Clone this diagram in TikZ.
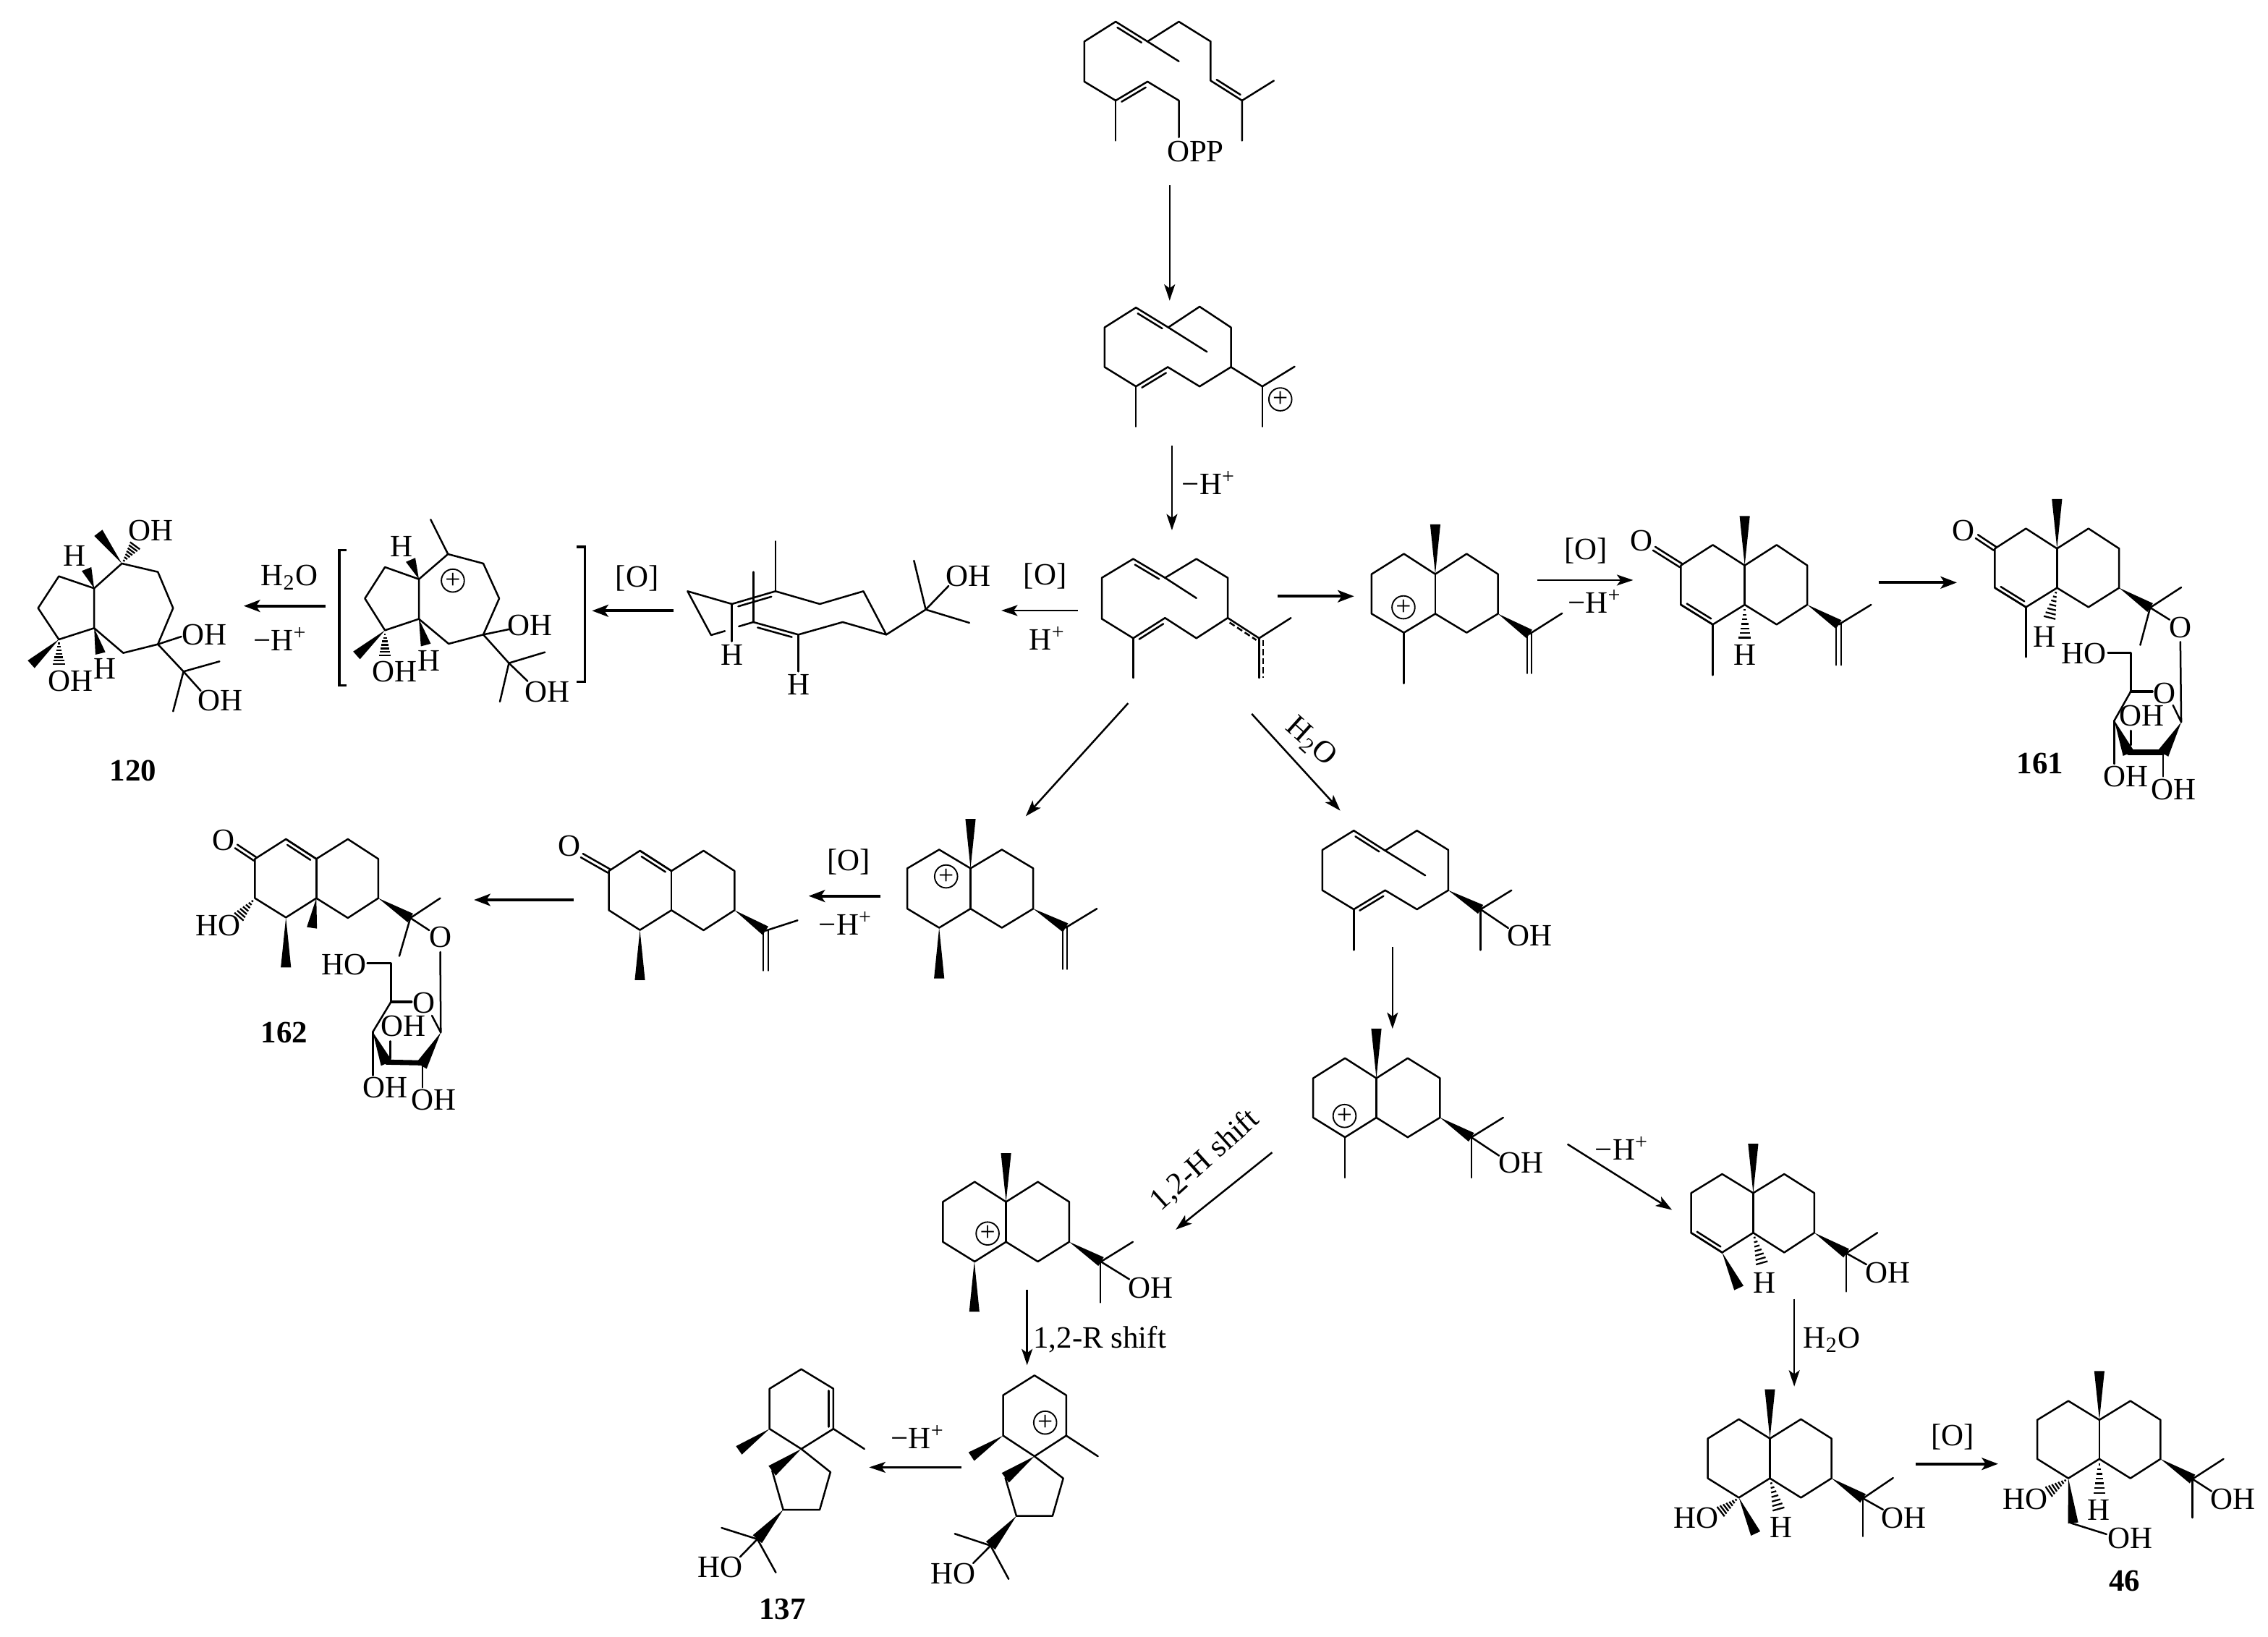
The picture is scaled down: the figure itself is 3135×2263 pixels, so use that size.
\documentclass[tikz,border=0pt]{standalone}
\usepackage{fontspec}
\setmainfont{Liberation Serif}
\usetikzlibrary{calc,arrows.meta}
\newcounter{lbl}\newcounter{rxn}
\tikzset{
 zf/.style n args={4}{shift={(#1*0.24pt,-#2*0.24pt)},x=0.24pt/#3,y=-0.24pt/#4},
 bond/.style={line width=.6pt,line cap=round,line join=round},
 heavy/.style={line width=1.7pt,line cap=round},
 dash2/.style={line width=.6pt,dash pattern=on 2pt off 1pt},
 rxnarrow/.style={line width=.6pt,-{Stealth[length=5.4pt,width=3.6pt,inset=1.3pt]}},
 rxnbold/.style={line width=1pt,-{Stealth[length=5.4pt,width=4pt,inset=1.3pt]}},
 txt/.style={inner sep=0pt,font=\fontsize{10.3}{12}\selectfont},
 btxt/.style={inner sep=0pt,font=\fontsize{10.3}{12}\selectfont\bfseries},
 cplus/.style={circle,draw,line width=.45pt,inner sep=0pt,minimum size=7.6pt,font=\fontsize{9}{9}\selectfont}
}
\newcommand\lb[3][]{\stepcounter{lbl}\node[txt,#1] (t\thelbl) at (#2) {#3};}
\newcommand\blb[2]{\stepcounter{lbl}\node[btxt] (t\thelbl) at (#1) {#2};}
\newcommand\cp[1]{\stepcounter{lbl}\node[cplus] (t\thelbl) at (#1) {+};}
\newcommand\bd[1]{\draw[bond] #1;}
\newcommand\rx[3][rxnarrow]{\stepcounter{rxn}\coordinate (r\therxn s) at (#2);\coordinate (r\therxn e) at (#3);\draw[#1] (r\therxn s) -- (r\therxn e);}
\newcommand\wdg[3][1.7pt]{\fill[black] (#2) -- ($(#3)!#1!90:(#2)$) -- ($(#3)!#1!-90:(#2)$) -- cycle;}
\newcommand\hsh[2]{\foreach \t in {.16,.3,.44,.58,.72,.86,1}{%
  \pgfmathsetlengthmacro\hw{\t*2pt}%
  \coordinate (hp) at ($(#1)!\t!(#2)$);%
  \coordinate (hq) at ($(#1)!\t*.9!(#2)$);%
  \draw[line width=.55pt] ($(hq)!\hw!90:(#2)$) -- ($(hq)!\hw!-90:(#2)$);}}
\newcommand\dbo[2]{\draw[bond] (#1) -- (#2);\draw[bond] ($($(#1)!.12!(#2)$)!1.35pt!90:(#2)$) -- ($($(#2)!.12!(#1)$)!1.35pt!-90:(#1)$);}
\newcommand\dbs[2]{\draw[bond] ($(#1)!.7pt!90:(#2)$) -- ($(#2)!.7pt!-90:(#1)$);\draw[bond] ($(#1)!.7pt!-90:(#2)$) -- ($(#2)!.7pt!90:(#1)$);}
\newcommand\mH{−H\textsuperscript{+}}
\newcommand\wat{H\textsubscript{2}O}
\begin{document}
\begin{tikzpicture}[x=0.24pt,y=-0.24pt]
\useasboundingbox (0,0) rectangle (3135,2263);
\fill[white] (0,0) rectangle (3135,2263);
% ---------- Top column
\begin{scope}[zf={1400}{0}{1.568}{1.568}]
\bd{(292,90)--(360,47)--(429,90)--(429,175)}
\bd{(292,90)--(360,133)}
\dbo{292,90}{223,47}
\bd{(223,47)--(155,90)--(155,177)--(223,218)}
\dbo{292,177}{223,218}
\bd{(292,177)--(360,218)--(360,298)}
\bd{(223,218)--(223,305)}
\dbo{429,175}{497,218}
\bd{(566,175)--(497,218)--(497,305)}
\lb{396,328}{OPP}
\rx{340,402}{340,652}
\dbo{337,710}{267,667}
\bd{(337,710)--(405,665)--(473,710)--(473,796)}
\bd{(337,710)--(421,763)}
\bd{(267,667)--(199,710)--(199,796)--(267,838)}
\dbo{336,796}{267,838}
\bd{(336,796)--(405,838)--(473,796)--(541,838)--(611,795)}
\bd{(541,838)--(541,925)}
\bd{(267,838)--(267,925)}
\cp{580,866}
\rx{345,967}{345,1150}
\lb{425,1047}{\mH}
\dbo{330,1253}{261,1212}
\bd{(330,1253)--(398,1212)--(466,1253)--(466,1340)}
\bd{(330,1253)--(398,1297)}
\bd{(261,1212)--(193,1253)--(193,1342)--(261,1384)}
\dbo{330,1340}{261,1384}
\bd{(330,1340)--(398,1384)--(466,1340)--(534,1384)--(603,1340)}
\bd{(261,1384)--(261,1470)}
\bd{(534,1384)--(534,1470)}
\draw[dash2] (470,1350)--(528,1388);
\draw[dash2] (543,1388)--(543,1470);
\rx[rxnbold]{574,1293}{740,1293}
\bd{(778,1245)--(848,1201)--(916,1245)--(984,1201)--(1052,1245)--(1052,1331)--(984,1372)--(916,1331)--(848,1372)--(778,1331)--cycle}
\bd{(916,1245)--(916,1331)}
\wdg{916,1245}{916,1137}
\bd{(848,1372)--(848,1482)}
\wdg{1052,1331}{1120,1375}
\bd{(1120,1375)--(1191,1330)}
\bd{(1115,1375)--(1115,1460)}
\bd{(1125,1375)--(1125,1460)}
\cp{847,1317}
\rx{1137,1258}{1345,1258}
\lb{1243,1195}{[O]}
\lb{1262,1305}{\mH}
\rx{141,1324}{-25,1324}
\lb{70,1250}{[O]}
\lb{75,1385}{H\textsuperscript{+}}
\rx{250,1525}{28,1770}
\rx{518,1548}{710,1758}
\end{scope}
\lb[rotate=-42]{1812,1026}{\wat}
% ---------- Left row
\begin{scope}[zf={0}{680}{1.045}{3}]
\bd{(136,400)--(85,350)--(55,482)--(85,612)--(136,565)--cycle}
\bd{(136,400)--(176,297)--(228,332)--(250,482)--(228,632)--(178,668)--(136,565)}
\hsh{176,297}{197,215}
\wdg{176,297}{142,170}
\wdg{136,400}{125,320}
\wdg{136,565}{145,670}
\wdg{85,612}{45,715}
\hsh{85,612}{85,725}
\lb{218,160}{OH}\lb{108,265}{H}\lb{152,733}{H}\lb{102,785}{OH}
\bd{(228,632)--(262,600)}\lb{295,592}{OH}
\bd{(228,632)--(265,745)--(317,703)}
\bd{(265,745)--(250,910)}
\bd{(265,745)--(290,825)}\lb{318,867}{OH}
\blb{192,1155}{120}
\rx[rxnbold]{470,473}{352,473}
\lb{418,355}{\wat}\lb{405,610}{\mH}
\draw[line width=.8pt] (500,242)--(490,242)--(490,803)--(500,803);
\draw[line width=.8pt] (833,228)--(845,228)--(845,788)--(833,788);
\bd{(605,362)--(556,312)--(527,442)--(556,574)--(605,527)--cycle}
\bd{(605,362)--(647,258)--(698,297)--(721,442)--(698,592)--(648,630)--(605,527)}
\bd{(647,258)--(622,115)}
\wdg{605,362}{593,282}\lb{580,225}{H}
\cp{654,368}
\bd{(698,592)--(735,570)}\lb{765,555}{OH}
\wdg{556,574}{515,678}
\hsh{556,574}{556,690}\lb{570,745}{OH}
\wdg{605,527}{615,635}\lb{620,700}{H}
\bd{(698,592)--(735,710)--(787,665)}
\bd{(735,710)--(722,870)}
\bd{(735,710)--(762,785)}\lb{790,830}{OH}
\rx[rxnbold]{973,493}{855,493}
\lb{920,358}{[O]}
\bd{(1057,465)--(993,412)--(1027,594)--(1047,577)}
\bd{(1067,558)--(1088,540)}
\dbo{1120,412}{1057,465}
\dbo{1153,592}{1088,540}
\bd{(1153,592)--(1217,540)--(1280,592)--(1247,412)--(1184,465)--(1120,412)}
\bd{(1120,412)--(1120,205)}
\bd{(1088,540)--(1088,332)}
\bd{(1057,465)--(1057,620)}\lb{1057,675}{H}
\bd{(1153,592)--(1153,745)}\lb{1153,800}{H}
\bd{(1280,592)--(1337,488)--(1320,285)}
\bd{(1337,488)--(1400,543)}
\bd{(1337,488)--(1370,390)}\lb{1398,350}{OH}
\end{scope}
% ---------- Right top
\begin{scope}[zf={2200}{640}{1.677}{3}]
\bd{(207,425)--(281,340)--(355,425)--(429,340)--(500,425)--(500,588)--(429,670)--(355,588)--(281,670)--(207,588)--cycle}
\bd{(355,425)--(355,588)}
\dbs{207,425}{145,355}\lb{115,323}{O}
\dbo{207,588}{281,670}
\wdg{355,425}{355,220}
\hsh{355,588}{355,740}\lb{355,795}{H}
\bd{(281,670)--(281,880)}
\wdg{500,588}{573,670}
\bd{(573,670)--(648,588)}
\bd{(567,665)--(567,838)}\bd{(579,665)--(579,838)}
\rx[rxnbold]{665,496}{847,496}
\bd{(935,355)--(1007,272)--(1079,355)--(1152,272)--(1223,355)--(1223,518)--(1152,598)--(1079,518)--(1007,598)--(935,518)--cycle}
\bd{(1079,355)--(1079,518)}
\dbs{935,355}{893,305}\lb{862,280}{O}
\dbo{935,518}{1007,598}
\wdg{1079,355}{1079,150}
\hsh{1079,518}{1060,655}\lb{1050,720}{H}
\bd{(1007,598)--(1007,805)}
\wdg{1223,518}{1295,600}
\bd{(1295,600)--(1367,516)}
\bd{(1295,600)--(1272,755)}
\bd{(1295,600)--(1340,650)}\lb{1365,682}{O}
\bd{(1365,742)--(1367,1075)--(1348,1005)}
\lb{1328,955}{O}
\draw[bond,line width=.8pt] (1300,948)--(1250,948);
\bd{(1250,948)--(1212,1068)}
\wdg[2pt]{1212,1068}{1245,1205}
\draw[heavy] (1245,1200)--(1325,1200);
\wdg[2pt]{1367,1075}{1325,1205}
\bd{(1250,948)--(1250,788)--(1197,788)}\lb{1142,792}{HO}
\lb{1275,1048}{OH}
\bd{(1250,1110)--(1250,1170)}
\bd{(1212,1068)--(1212,1248)}\lb{1238,1300}{OH}
\bd{(1325,1205)--(1325,1300)}\lb{1350,1355}{OH}
\blb{1040,1248}{161}
\end{scope}
% ---------- 162 row
\begin{scope}[zf={240}{1080}{1.307}{3}]
\bd{(147,322)--(203,240)--(258,322)--(315,240)--(370,322)--(370,485)--(315,567)--(258,485)--(203,565)--(147,485)--cycle}
\bd{(258,322)--(258,485)}
\dbo{258,322}{203,240}
\dbs{147,322}{113,270}\lb{90,245}{O}
\hsh{147,485}{115,570}\lb{80,600}{HO}
\wdg{203,565}{203,772}
\wdg{258,485}{250,608}
\wdg{370,485}{428,567}
\bd{(428,567)--(482,485)}
\bd{(428,567)--(408,725)}
\bd{(428,567)--(462,618)}\lb{482,648}{O}
\bd{(482,708)--(483,1042)--(467,972)}
\lb{453,920}{O}
\draw[bond,line width=.8pt] (430,915)--(393,915);
\bd{(393,915)--(360,1040)}
\wdg[2pt]{360,1040}{385,1170}
\draw[heavy] (385,1165)--(450,1168);
\wdg[2pt]{483,1042}{448,1180}
\bd{(393,915)--(393,755)--(350,755)}\lb{308,760}{HO}
\lb{415,1015}{OH}
\bd{(392,1078)--(392,1150)}
\bd{(360,1040)--(360,1220)}\lb{383,1270}{OH}
\bd{(450,1180)--(450,1270)}\lb{470,1322}{OH}
\blb{200,1042}{162}
\rx[rxnbold]{723,492}{543,492}
\bd{(787,372)--(843,288)--(900,372)--(958,288)--(1014,372)--(1014,535)--(958,618)--(900,535)--(843,617)--(787,535)--cycle}
\bd{(900,372)--(900,535)}
\dbo{900,372}{843,288}
\dbs{787,372}{738,308}\lb{715,270}{O}
\wdg{843,617}{843,825}
\wdg{1014,535}{1070,620}
\bd{(1070,620)--(1128,577)}
\bd{(1066,620)--(1066,785)}\bd{(1075,620)--(1075,785)}
\rx[rxnbold]{1278,476}{1148,476}
\lb{1220,333}{[O]}\lb{1215,590}{\mH}
\end{scope}
% ---------- centre
\begin{scope}[zf={1200}{1100}{1.568}{2.24}]
\bd{(85,225)--(154,167)--(222,225)--(290,167)--(358,225)--(358,350)--(290,409)--(222,350)--(154,409)--(85,350)--cycle}
\bd{(222,225)--(222,350)}
\wdg{222,225}{222,72}
\wdg{154,409}{154,566}
\cp{169,250}
\wdg{358,350}{428,409}
\bd{(428,409)--(496,350)}
\bd{(422,409)--(422,537)}\bd{(431,409)--(431,537)}
\dbo{1121,170}{1053,108}
\dbo{1121,293}{1053,352}
\bd{(1053,108)--(985,168)--(985,293)--(1053,352)}
\bd{(1121,170)--(1190,108)--(1258,168)--(1258,293)--(1190,352)--(1121,293)}
\bd{(1121,170)--(1208,247)}
\bd{(1053,352)--(1053,478)}
\wdg{1258,293}{1328,352}
\bd{(1328,352)--(1395,293)}
\bd{(1328,352)--(1328,478)}
\bd{(1328,352)--(1388,410)}\lb{1435,433}{OH}
\rx{1137,468}{1137,722}
\bd{(965,875)--(1034,813)--(1102,875)--(1170,813)--(1240,875)--(1240,997)--(1170,1058)--(1102,997)--(1034,1058)--(965,997)--cycle}
\bd{(1102,875)--(1102,997)}
\wdg{1102,875}{1102,722}
\bd{(1034,1058)--(1034,1183)}
\cp{1033,992}
\wdg{1240,997}{1308,1058}
\bd{(1308,1058)--(1377,997)}
\bd{(1308,1058)--(1308,1183)}
\bd{(1308,1058)--(1368,1115)}\lb{1416,1138}{OH}
\rx{876,1105}{667,1344}
\lb[rotate=42]{730,1130}{1,2-H shift}
\bd{(162,1258)--(231,1196)--(299,1258)--(368,1196)--(436,1258)--(436,1382)--(368,1443)--(299,1382)--(231,1443)--(162,1382)--cycle}
\bd{(299,1258)--(299,1382)}
\wdg{299,1258}{299,1107}
\cp{259,1356}
\wdg{436,1382}{505,1443}
\bd{(505,1443)--(574,1382)}
\end{scope}
% ---------- bottom left
\begin{scope}[zf={950}{1650}{1.96}{2.558}]
\wdg{778,240}{778,418}
\bd{(1120,240)--(1120,385)}
\bd{(1120,240)--(1198,303)}\lb{1256,335}{OH}
\rx{921,340}{921,607}
\lb{1118,515}{1,2-R shift}
\bd{(856,713)--(941,643)--(1027,713)--(1027,856)--(941,929)--(856,856)--cycle}
\cp{970,810}
\wdg{856,856}{770,930}
\bd{(1027,856)--(1113,929)}
\wdg[2pt]{941,929}{862,1005}
\bd{(862,1005)--(892,1140)--(990,1140)--(1019,1007)--(941,929)}
\wdg[2pt]{892,1140}{822,1245}
\bd{(822,1245)--(725,1203)}
\bd{(822,1245)--(871,1363)}
\bd{(822,1245)--(775,1307)}\lb{720,1345}{HO}
\rx{743,968}{493,968}
\lb{625,860}{\mH}
\bd{(223,690)--(309,621)--(396,690)--(396,832)--(309,903)--(223,832)--cycle}
\bd{(383,697)--(383,825)}
\wdg{223,832}{140,908}
\bd{(396,832)--(480,903)}
\wdg[2pt]{309,903}{230,980}
\bd{(230,980)--(260,1118)--(359,1118)--(388,985)--(309,903)}
\wdg[2pt]{260,1118}{190,1222}
\bd{(190,1222)--(93,1182)}
\bd{(190,1222)--(240,1340)}
\bd{(190,1222)--(143,1285)}\lb{90,1320}{HO}
\blb{258,1470}{137}
\end{scope}
% ---------- bottom right
\begin{scope}[zf={2100}{1500}{1.515}{2.055}]
\rx{101,168}{320,355}
\lb{215,180}{\mH}
\bd{(360,307)--(425,253)--(490,307)--(555,253)--(618,307)--(618,420)--(555,476)--(490,420)--(425,476)--(360,420)--cycle}
\bd{(490,307)--(490,420)}
\dbo{360,420}{425,476}
\wdg{490,307}{490,167}
\wdg{425,476}{460,577}
\hsh{490,420}{510,515}\lb{513,562}{H}
\wdg{618,420}{685,478}
\bd{(685,478)--(750,420)}
\bd{(685,478)--(685,587)}
\bd{(685,478)--(727,510)}\lb{772,533}{OH}
\rx{576,608}{576,857}
\lb{655,725}{\wat}
\bd{(395,1005)--(460,950)--(525,1005)--(590,950)--(654,1005)--(654,1118)--(590,1173)--(525,1118)--(460,1173)--(395,1118)--cycle}
\bd{(525,1005)--(525,1118)}
\wdg{525,1005}{525,865}
\wdg{460,1173}{495,1275}
\hsh{460,1173}{418,1217}\lb{370,1230}{HO}
\hsh{525,1118}{545,1215}\lb{548,1258}{H}
\wdg{654,1118}{720,1175}
\bd{(720,1175)--(783,1117)}
\bd{(720,1175)--(720,1283)}
\bd{(720,1175)--(762,1207)}\lb{806,1230}{OH}
\rx[rxnbold]{830,1077}{1003,1077}
\lb{908,1000}{[O]}
\bd{(1085,952)--(1150,898)--(1215,952)--(1280,898)--(1343,952)--(1343,1063)--(1280,1118)--(1215,1063)--(1150,1118)--(1085,1063)--cycle}
\bd{(1215,952)--(1215,1063)}
\wdg{1215,952}{1215,813}
\hsh{1215,1063}{1215,1170}\lb{1213,1208}{H}
\hsh{1150,1118}{1105,1160}\lb{1060,1178}{HO}
\wdg{1150,1118}{1160,1245}
\bd{(1155,1245)--(1230,1277)}\lb{1280,1288}{OH}
\wdg{1343,1063}{1410,1120}
\bd{(1410,1120)--(1475,1063)}
\bd{(1410,1120)--(1410,1230)}
\bd{(1410,1120)--(1450,1155)}\lb{1495,1178}{OH}
\blb{1268,1410}{46}
\end{scope}
\end{tikzpicture}
\end{document}
